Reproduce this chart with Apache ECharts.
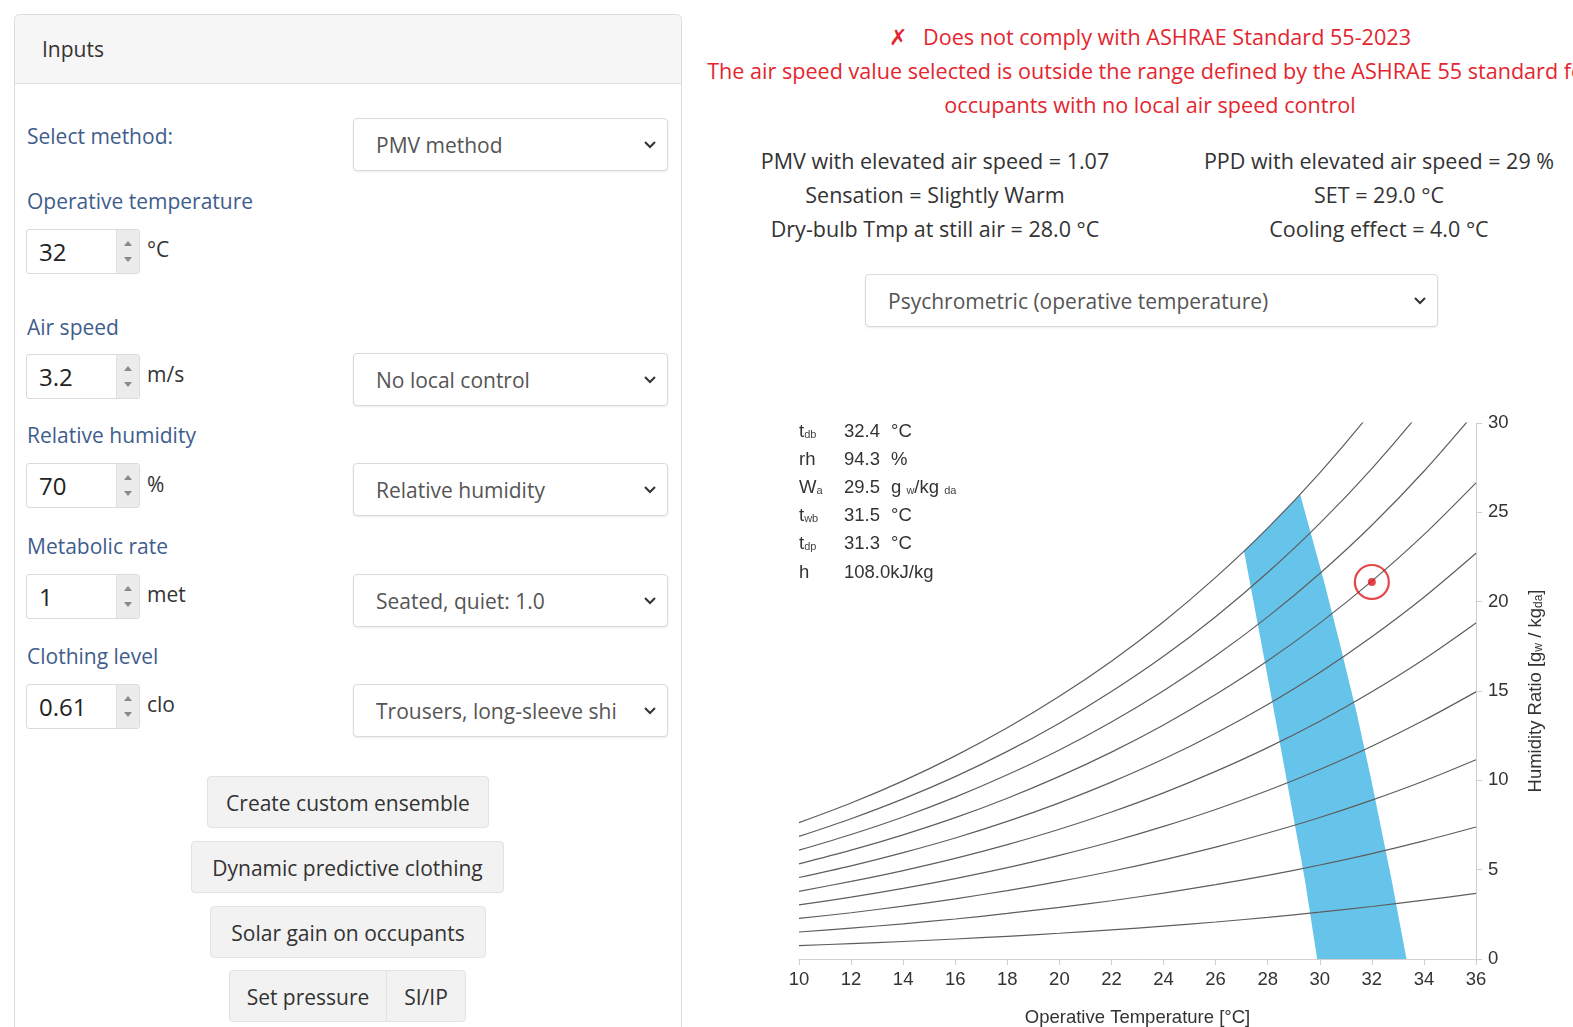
<!DOCTYPE html>
<html>
<head>
<meta charset="utf-8">
<script src="https://cdn.jsdelivr.net/npm/echarts@6/dist/echarts.min.js"></script>
<style>
html,body{margin:0;padding:0;width:1573px;height:1027px;overflow:hidden;background:#fff;font-family:"Open Sans","Noto Sans",sans-serif;}
.a{position:absolute;}
.card{position:absolute;left:14px;top:14px;width:666px;height:1040px;border:1px solid #dcdcdc;border-radius:5px;background:#fff;}
.hdr{position:absolute;left:0;top:0;width:666px;height:68px;background:#f6f6f6;border-bottom:1px solid #dcdcdc;border-radius:5px 5px 0 0;}
.hdr span{position:absolute;left:27px;top:22px;font-size:21px;line-height:24px;color:#333;}
.lbl{position:absolute;left:27px;color:#3f5d8c;font-size:21px;line-height:24px;white-space:nowrap;}
.num{position:absolute;left:26px;width:114px;height:45px;border:1px solid #dadada;border-radius:3px;box-sizing:border-box;background:#fff;}
.num .v{position:absolute;left:12px;top:0;font-size:24px;line-height:43px;color:#222;}
.num .sp{position:absolute;right:0;top:0;width:22px;height:43px;background:#ececec;border-left:1px solid #e0e0e0;}
.num .sp i{position:absolute;left:7px;width:0;height:0;border-left:4px solid transparent;border-right:4px solid transparent;}
.num .sp i.u{top:11px;border-bottom:5px solid #8a8a8a;}
.num .sp i.d{top:27px;border-top:5px solid #8a8a8a;}
.unit{position:absolute;left:147px;font-size:21px;line-height:24px;color:#333;}
.sel{position:absolute;left:353px;width:315px;height:53px;border:1px solid #dadada;border-radius:4px;box-sizing:border-box;background:#fff;box-shadow:0 1px 2px rgba(0,0,0,0.08);}
.sel span{position:absolute;left:22px;top:0;font-size:21px;line-height:53px;color:#555;white-space:nowrap;}
.sel svg{position:absolute;right:11px;top:22px;}
.btn{position:absolute;height:52px;border:1px solid #e2e2e2;border-radius:4px;box-sizing:border-box;background:#f2f2f2;font-size:21px;line-height:52px;color:#333;text-align:center;white-space:nowrap;}
.red{position:absolute;left:703px;width:894px;text-align:center;color:#e3262f;font-size:21.6px;line-height:24px;white-space:nowrap;}
.res{position:absolute;width:520px;text-align:center;color:#333;font-size:21.5px;line-height:24px;white-space:nowrap;}
</style>
</head>
<body>
<div class="card">
  <div class="hdr"><span>Inputs</span></div>
</div>

<div class="lbl" style="top:124px">Select method:</div>
<div class="sel" style="top:118px"><span>PMV method</span><svg width="12" height="8"><polyline points="1,1 6,6 11,1" fill="none" stroke="#333" stroke-width="2"/></svg></div>

<div class="lbl" style="top:189px">Operative temperature</div>
<div class="num" style="top:229px"><div class="v">32</div><div class="sp"><i class="u"></i><i class="d"></i></div></div>
<div class="unit" style="top:237px">°C</div>

<div class="lbl" style="top:315px">Air speed</div>
<div class="num" style="top:354px"><div class="v">3.2</div><div class="sp"><i class="u"></i><i class="d"></i></div></div>
<div class="unit" style="top:362px">m/s</div>
<div class="sel" style="top:353px"><span>No local control</span><svg width="12" height="8"><polyline points="1,1 6,6 11,1" fill="none" stroke="#333" stroke-width="2"/></svg></div>

<div class="lbl" style="top:423px">Relative humidity</div>
<div class="num" style="top:463px"><div class="v">70</div><div class="sp"><i class="u"></i><i class="d"></i></div></div>
<div class="unit" style="top:472px">%</div>
<div class="sel" style="top:463px"><span>Relative humidity</span><svg width="12" height="8"><polyline points="1,1 6,6 11,1" fill="none" stroke="#333" stroke-width="2"/></svg></div>

<div class="lbl" style="top:534px">Metabolic rate</div>
<div class="num" style="top:574px"><div class="v">1</div><div class="sp"><i class="u"></i><i class="d"></i></div></div>
<div class="unit" style="top:582px">met</div>
<div class="sel" style="top:574px"><span>Seated, quiet: 1.0</span><svg width="12" height="8"><polyline points="1,1 6,6 11,1" fill="none" stroke="#333" stroke-width="2"/></svg></div>

<div class="lbl" style="top:644px">Clothing level</div>
<div class="num" style="top:684px"><div class="v">0.61</div><div class="sp"><i class="u"></i><i class="d"></i></div></div>
<div class="unit" style="top:692px">clo</div>
<div class="sel" style="top:684px"><span>Trousers, long-sleeve shi</span><svg width="12" height="8"><polyline points="1,1 6,6 11,1" fill="none" stroke="#333" stroke-width="2"/></svg></div>

<div class="btn" style="left:207px;top:776px;width:282px;">Create custom ensemble</div>
<div class="btn" style="left:191px;top:841px;width:313px;">Dynamic predictive clothing</div>
<div class="btn" style="left:210px;top:906px;width:276px;">Solar gain on occupants</div>
<div class="btn" style="left:229px;top:970px;width:158px;border-radius:4px 0 0 4px;">Set pressure</div>
<div class="btn" style="left:386px;top:970px;width:80px;border-radius:0 4px 4px 0;">SI/IP</div>

<div class="red" style="top:25px"><span style="margin-right:16px">✗</span>Does not comply with ASHRAE Standard 55-2023</div>
<div class="red" style="top:59px">The air speed value selected is outside the range defined by the ASHRAE 55 standard for</div>
<div class="red" style="top:93px">occupants with no local air speed control</div>

<div class="res" style="left:675px;top:149px">PMV with elevated air speed = 1.07</div>
<div class="res" style="left:675px;top:183px">Sensation = Slightly Warm</div>
<div class="res" style="left:675px;top:217px">Dry-bulb Tmp at still air = 28.0 °C</div>
<div class="res" style="left:1119px;top:149px">PPD with elevated air speed = 29 %</div>
<div class="res" style="left:1119px;top:183px">SET = 29.0 °C</div>
<div class="res" style="left:1119px;top:217px">Cooling effect = 4.0 °C</div>

<div class="sel" style="left:865px;top:274px;width:573px;"><span>Psychrometric (operative temperature)</span><svg width="12" height="8"><polyline points="1,1 6,6 11,1" fill="none" stroke="#333" stroke-width="2"/></svg></div>

<div id="chart" class="a" style="left:700px;top:380px;width:873px;height:647px;"></div>

<script>
// Dry-bulb / operative temperatures at which the RH curves are sampled (°C)
const temps = [10,12,14,16,18,20,22,24,26,28,30,32,34,36];
// Humidity ratio (g/kg) along each relative-humidity curve
const rh10  = [0.75,0.86,0.98,1.12,1.27,1.44,1.63,1.84,2.07,2.33,2.62,2.94,3.29,3.67];
const rh20  = [1.51,1.73,1.97,2.24,2.55,2.89,3.26,3.69,4.16,4.68,5.26,5.90,6.61,7.39];
const rh30  = [2.27,2.59,2.96,3.37,3.83,4.34,4.91,5.55,6.26,7.05,7.92,8.89,9.96,11.15];
const rh40  = [3.03,3.46,3.95,4.50,5.11,5.80,6.56,7.42,8.37,9.43,10.61,11.91,13.36,14.95];
const rh50  = [3.79,4.34,4.95,5.63,6.40,7.26,8.23,9.30,10.50,11.83,13.31,14.96,16.78,18.81];
const rh60  = [4.56,5.21,5.95,6.77,7.70,8.74,9.90,11.19,12.64,14.25,16.04,18.04,20.25,22.71];
const rh70  = [5.32,6.09,6.95,7.91,9.00,10.22,11.58,13.10,14.80,16.69,18.80,21.15,23.75,26.65];
const rh80  = [6.09,6.97,7.95,9.06,10.31,11.70,13.27,15.02,16.97,19.15,21.58,24.28,27.30,30.65];
const rh90  = [6.86,7.85,8.96,10.21,11.62,13.20,14.97,16.94,19.16,21.63,24.38,27.45,30.88,34.69];
const rh100 = [7.63,8.73,9.97,11.37,12.94,14.70,16.67,18.88,21.36,24.12,27.21,30.66,34.50,38.79];

// Comfort zone outline (temperature °C, humidity ratio g/kg)
const zoneT = [27.09,28.20,29.25,30.15,30.80,31.42,31.98,32.76,33.33,29.90,29.43,28.73,28.02,27.09];
const zoneW = [22.83,24.43,25.98,21.21,17.48,13.75,10.02,4.42,0.00,0.00,4.42,10.02,15.61,22.83];

// Current condition
const pointT = [32];
const pointW = [21.1];

// Axis ticks
const xTicks = [10,36,2];
const yTicks = [0,30,5];

// Hover readout
const infoLabels = ['t','rh','W','t','t','h'];
const infoSubs   = ['db','','a','wb','dp',''];
const infoValues = ['32.4','94.3','29.5','31.5','31.3','108.0'];
const infoUnits  = ['°C','%','g','°C','°C','kJ/kg'];

const chart = echarts.init(document.getElementById('chart'), null, {renderer:'canvas'});
const rhCurves = [rh10,rh20,rh30,rh40,rh50,rh60,rh70,rh80,rh90,rh100];
const FONT = 'Liberation Sans, Arial, sans-serif';
const FS = 18.5;

const lineSeries = rhCurves.map((arr, k) => ({
  type:'line', name:'rh'+(k+1)*10, silent:true, showSymbol:false, smooth:0.3,
  data: temps.map((t,i)=>[t, arr[i]]),
  lineStyle:{color:'#5e5e5e', width:1.2}, z:3, clip:true
}));

const richBase = {
  m:{fontSize:FS, fill:'#333', fontFamily:FONT, verticalAlign:'bottom'},
  s:{fontSize:11, fill:'#444', fontFamily:FONT, verticalAlign:'bottom', padding:[0,0,1,0]}
};
const graphics = [];
infoLabels.forEach((lab,i)=>{
  const y = 52 + 28.1*i;
  graphics.push({type:'text', x:99, y:y, z:10, style:{
    text: infoSubs[i] ? '{m|'+lab+'}{s|'+infoSubs[i]+'}' : '{m|'+lab+'}',
    verticalAlign:'middle', align:'left', rich:richBase
  }});
  if (infoUnits[i] === 'kJ/kg') {
    graphics.push({type:'text', x:144, y:y, z:10, style:{text: infoValues[i]+infoUnits[i], verticalAlign:'middle', align:'left', fontSize:FS, fill:'#333', fontFamily:FONT}});
  } else {
    graphics.push({type:'text', x:144, y:y, z:10, style:{text: infoValues[i], verticalAlign:'middle', align:'left', fontSize:FS, fill:'#333', fontFamily:FONT}});
    if (infoUnits[i] === 'g') {
      graphics.push({type:'text', x:191, y:y, z:10, style:{
        text:'{m|g }{s|w}{m|/kg }{s|da}', verticalAlign:'middle', align:'left', rich:richBase
      }});
    } else {
      graphics.push({type:'text', x:191, y:y, z:10, style:{text: infoUnits[i], verticalAlign:'middle', align:'left', fontSize:FS, fill:'#333', fontFamily:FONT}});
    }
  }
});

const option = {
  animation:false,
  grid:{left:99, right:97, top:43, bottom:68, containLabel:false, outerBoundsMode:'none'},
  xAxis:{
    type:'value', min:xTicks[0], max:xTicks[1], interval:xTicks[2],
    name:'Operative Temperature [°C]', nameLocation:'middle', nameGap:49,
    nameTextStyle:{fontSize:FS, color:'#333', fontFamily:FONT},
    axisLine:{show:true, lineStyle:{color:'#cfcfcf'}},
    axisTick:{show:true, length:6, lineStyle:{color:'#cfcfcf'}},
    axisLabel:{fontSize:FS, color:'#333', fontFamily:FONT, margin:11},
    splitLine:{show:false}
  },
  yAxis:{
    type:'value', position:'right', min:yTicks[0], max:yTicks[1], interval:yTicks[2],
    name:'Humidity Ratio [g{s|w} / kg{s|da}]', nameLocation:'middle', nameGap:50, nameRotate:90,
    nameTextStyle:{fontSize:FS, color:'#333', fontFamily:FONT,
      rich:{s:{fontSize:12, color:'#333', fontFamily:FONT, verticalAlign:'bottom', padding:[7,0,0,0]}}},
    axisLine:{show:true, lineStyle:{color:'#cfcfcf'}},
    axisTick:{show:true, length:6, lineStyle:{color:'#cfcfcf'}},
    axisLabel:{fontSize:FS, color:'#333', fontFamily:FONT, margin:12},
    splitLine:{show:false}
  },
  graphic: graphics,
  series: [
    {
      type:'custom', silent:true, z:2, clip:true,
      data: zoneT.map((t,i)=>[t, zoneW[i]]),
      encode:{x:0, y:1},
      renderItem:(params, api)=>{
        if (params.dataIndex !== 0) return null;
        const pts = zoneT.map((t,i)=>api.coord([t, zoneW[i]]));
        return {type:'polygon', shape:{points:pts}, style:{fill:'#66c4ea'}};
      }
    },
    ...lineSeries,
    {
      type:'scatter', silent:true, z:5, symbol:'circle', symbolSize:34,
      data: pointT.map((t,i)=>[t, pointW[i]]),
      itemStyle:{color:'rgba(255,255,255,0)', borderColor:'#e0161c', borderWidth:2.2}
    },
    {
      type:'scatter', silent:true, z:6, symbol:'circle', symbolSize:8,
      data: pointT.map((t,i)=>[t, pointW[i]]),
      itemStyle:{color:'#e0161c'}
    }
  ]
};
chart.setOption(option);
</script>
</body>
</html>
